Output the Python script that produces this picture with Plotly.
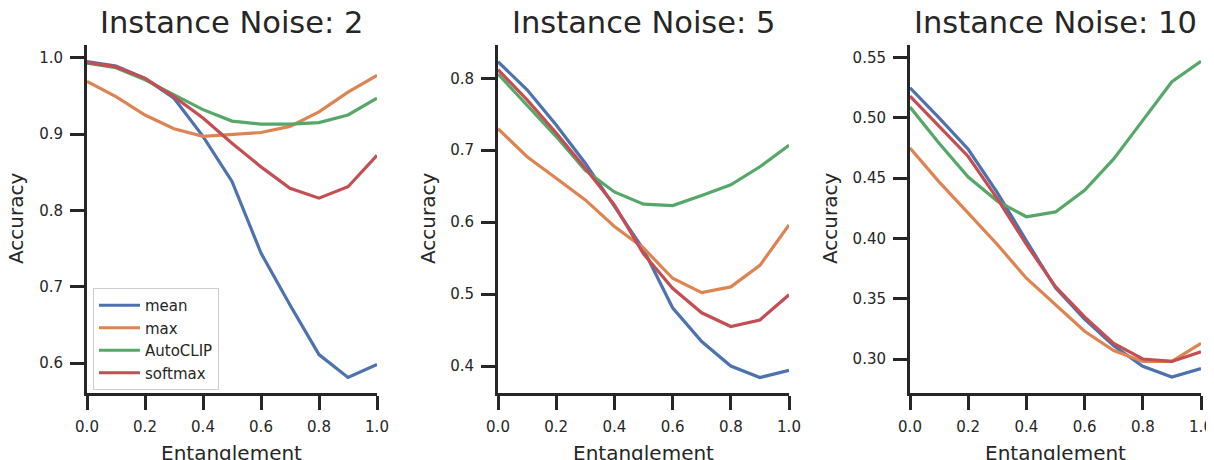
import plotly.graph_objects as go

# The page puts the figure 8px in from the top-left corner, so every
# pixel position below (measured on the 1214x460 reference) is shifted by it.
PAGE_OFFSET = 8
W, H = 1214 - PAGE_OFFSET, 460 - PAGE_OFFSET

entanglement = [0.0, 0.1, 0.2, 0.3, 0.4, 0.5, 0.6, 0.7, 0.8, 0.9, 1.0]
panel_titles = ["Instance Noise: 2", "Instance Noise: 5", "Instance Noise: 10"]
method_names = ["mean", "max", "AutoCLIP", "softmax"]
method_colors = ["#4C72B0", "#DD8452", "#55A868", "#C44E52"]

# Instance noise 2
n2_mean = [0.995, 0.989, 0.973, 0.947, 0.897, 0.838, 0.744, 0.676, 0.611, 0.581, 0.598]
n2_max = [0.969, 0.949, 0.925, 0.907, 0.897, 0.899, 0.902, 0.910, 0.929, 0.955, 0.977]
n2_autoclip = [0.993, 0.987, 0.971, 0.951, 0.932, 0.917, 0.913, 0.913, 0.915, 0.925, 0.947]
n2_softmax = [0.994, 0.988, 0.973, 0.949, 0.921, 0.888, 0.857, 0.829, 0.816, 0.831, 0.872]

# Instance noise 5
n5_mean = [0.823, 0.784, 0.735, 0.682, 0.622, 0.562, 0.481, 0.434, 0.400, 0.384, 0.394]
n5_max = [0.730, 0.691, 0.661, 0.631, 0.594, 0.564, 0.522, 0.502, 0.510, 0.540, 0.596]
n5_autoclip = [0.806, 0.763, 0.719, 0.672, 0.642, 0.625, 0.623, 0.637, 0.652, 0.677, 0.707]
n5_softmax = [0.812, 0.770, 0.724, 0.675, 0.624, 0.556, 0.508, 0.474, 0.455, 0.464, 0.499]

# Instance noise 10
n10_mean = [0.525, 0.500, 0.474, 0.438, 0.398, 0.359, 0.333, 0.311, 0.294, 0.285, 0.292]
n10_max = [0.475, 0.447, 0.421, 0.395, 0.367, 0.345, 0.323, 0.307, 0.298, 0.298, 0.313]
n10_autoclip = [0.509, 0.479, 0.451, 0.431, 0.418, 0.422, 0.440, 0.466, 0.498, 0.530, 0.547]
n10_softmax = [0.518, 0.493, 0.468, 0.433, 0.395, 0.360, 0.335, 0.313, 0.300, 0.298, 0.306]

panel_series = [
    [n2_mean, n2_max, n2_autoclip, n2_softmax],
    [n5_mean, n5_max, n5_autoclip, n5_softmax],
    [n10_mean, n10_max, n10_autoclip, n10_softmax],
]
y_ranges = [[0.5607, 1.0167], [0.3625, 0.8463], [0.2718, 0.5605]]
y_ticks = [[0.6, 0.7, 0.8, 0.9, 1.0], [0.4, 0.5, 0.6, 0.7, 0.8],
           [0.30, 0.35, 0.40, 0.45, 0.50, 0.55]]
y_fmt = [".1f", ".1f", ".2f"]
x_ticks = [0.0, 0.2, 0.4, 0.6, 0.8, 1.0]

# positions in reference-screen pixels
x_px = [(87, 377), (498, 789), (910, 1201)]
y_px = (45, 393)
ylabel_x = [16, 428, 830]


def px_x(v):
    return (v - PAGE_OFFSET) / W


def px_y(v):
    return 1 - (v - PAGE_OFFSET) / H


FONT = "DejaVu Sans"
INK = "#262626"

fig = go.Figure()
layout = dict(
    width=W, height=H,
    margin=dict(l=0, r=0, t=0, b=0, autoexpand=False),
    paper_bgcolor="white", plot_bgcolor="white",
    font=dict(family=FONT, color=INK, size=15),
    showlegend=True,
    legend=dict(
        x=px_x(93), y=px_y(288), xanchor="left", yanchor="top",
        bgcolor="rgba(255,255,255,0.8)", bordercolor="#cccccc", borderwidth=1,
        font=dict(family=FONT, size=15, color=INK),
        itemwidth=41,
    ),
)
annotations = []
for i in range(3):
    xa = "x" if i == 0 else f"x{i+1}"
    ya = "y" if i == 0 else f"y{i+1}"
    for s, (name, color) in enumerate(zip(method_names, method_colors)):
        fig.add_trace(go.Scatter(
            x=entanglement, y=panel_series[i][s], mode="lines", name=name,
            line=dict(color=color, width=3.2), xaxis=xa, yaxis=ya,
            showlegend=(i == 0),
        ))
    axis_common = dict(
        showline=True, linecolor=INK, linewidth=3, mirror=False,
        ticks="outside", ticklen=14, tickwidth=3, tickcolor=INK,
        showgrid=False, zeroline=False, automargin=False,
        tickfont=dict(family=FONT, size=15, color=INK),
        ticklabelstandoff=4,
    )
    x0, x1 = x_px[i]
    layout[("xaxis" if i == 0 else f"xaxis{i+1}")] = dict(
        axis_common, domain=[px_x(x0), px_x(x1)], range=[0, 1],
        tickvals=x_ticks, tickformat=".1f", anchor=ya,
    )
    layout[("yaxis" if i == 0 else f"yaxis{i+1}")] = dict(
        axis_common, domain=[px_y(y_px[1]), px_y(y_px[0])], range=y_ranges[i],
        tickvals=y_ticks[i], tickformat=y_fmt[i], anchor=xa,
    )
    cx = px_x((x0 + x1) / 2)
    annotations.append(dict(
        text=panel_titles[i], x=cx, y=px_y(22),
        xref="paper", yref="paper", xanchor="center", yanchor="middle",
        showarrow=False, font=dict(family=FONT, size=30.5, color=INK),
    ))
    annotations.append(dict(
        text="Entanglement", x=cx, y=px_y(453),
        xref="paper", yref="paper", xanchor="center", yanchor="middle",
        showarrow=False, font=dict(family=FONT, size=20, color=INK),
    ))
    annotations.append(dict(
        text="Accuracy", x=px_x(ylabel_x[i]), y=px_y(219), textangle=-90,
        xref="paper", yref="paper", xanchor="center", yanchor="middle",
        showarrow=False, font=dict(family=FONT, size=20, color=INK),
    ))
layout["annotations"] = annotations
fig.update_layout(**layout)
fig.write_html("out.html")
